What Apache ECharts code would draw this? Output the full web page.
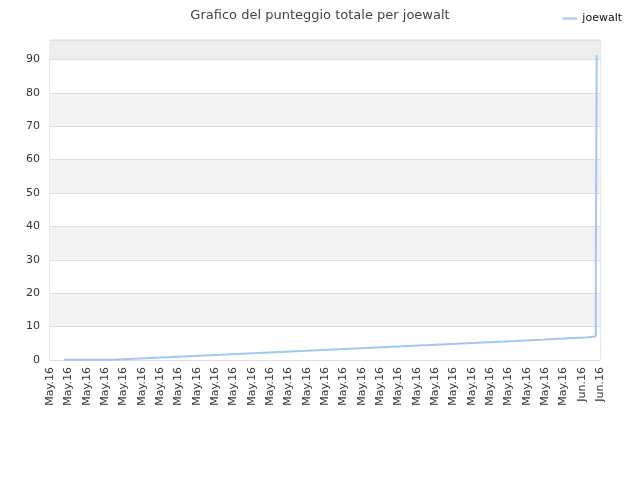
<!DOCTYPE html>
<html>
<head>
<meta charset="utf-8">
<script src="https://cdn.jsdelivr.net/npm/echarts@6/dist/echarts.min.js"></script>
<style>html,body{margin:0;padding:0;background:#fff;}#c{width:640px;height:480px;}</style>
</head>
<body>
<div id="c"></div>
<script>
// Tick labels on the x axis (one per axis unit)
const tickLabels = [
  'May.16','May.16','May.16','May.16','May.16','May.16','May.16','May.16','May.16','May.16',
  'May.16','May.16','May.16','May.16','May.16','May.16','May.16','May.16','May.16','May.16',
  'May.16','May.16','May.16','May.16','May.16','May.16','May.16','May.16','May.16','Jun.16','Jun.16'
];
// x positions of the score changes (in tick units) and the total score after each change
const xDays = [0.76, 2.85, 3.45, 4.64, 5.8, 6.98, 8.13, 9.33, 10.47, 11.67, 12.82, 14.0, 15.15, 16.31,
  17.49, 18.64, 19.82, 21.0, 22.18, 23.33, 24.55, 25.69, 26.87, 28.04, 29.22, 29.77, 29.8, 29.82];
const scores = [0.05, 0.1, 0.4, 0.7, 1.0, 1.3, 1.6, 1.9, 2.2, 2.5, 2.8, 3.1, 3.4, 3.7,
  4.0, 4.3, 4.6, 4.9, 5.2, 5.5, 5.8, 6.1, 6.4, 6.7, 7.0, 30, 63, 91.3];
const seriesName = 'joewalt';
const yMax = 95.8;

const chart = echarts.init(document.getElementById('c'), null, {renderer: 'canvas'});
chart.setOption({
  animation: false,
  backgroundColor: '#fff',
  title: {
    text: 'Grafico del punteggio totale per joewalt',
    left: 'center', top: 4,
    textStyle: {fontFamily: 'DejaVu Sans', fontSize: 13, fontWeight: 'normal', color: '#444'}
  },
  legend: {
    data: [seriesName], right: 13, top: 8, itemWidth: 15, itemHeight: 2, itemGap: 6,
    icon: 'rect',
    textStyle: {fontFamily: 'DejaVu Sans', fontSize: 11, color: '#111'}
  },
  grid: {left: 50, right: 40, top: 40, bottom: 120, show: true, borderColor: '#d6d6d6', borderWidth: 1},
  xAxis: {
    type: 'value', min: 0, max: 30, interval: 1,
    axisLine: {show: false}, axisTick: {show: false}, splitLine: {show: false},
    axisLabel: {
      rotate: 90, margin: 7, fontFamily: 'DejaVu Sans', fontSize: 11, color: '#333',
      formatter: v => tickLabels[Math.round(v)]
    }
  },
  yAxis: {
    type: 'value', min: 0, max: yMax, interval: 10,
    axisLine: {show: false}, axisTick: {show: false},
    axisLabel: {showMaxLabel: false, margin: 10, fontFamily: 'DejaVu Sans', fontSize: 11, color: '#333'},
    splitLine: {show: true, lineStyle: {color: '#dedede', width: 1}},
    splitArea: {show: true, areaStyle: {color: ['#ffffff','#f3f3f3','#ffffff','#f3f3f3','#ffffff','#f3f3f3','#ffffff','#f3f3f3','#ffffff','#ededed']}}
  },
  series: [{
    name: seriesName, type: 'line', step: 'end', showSymbol: false,
    lineStyle: {color: '#9ec9f3', width: 2}, itemStyle: {color: '#9ec9f3'},
    data: xDays.map((d, i) => [d, scores[i]])
  }]
});
</script>
</body>
</html>
